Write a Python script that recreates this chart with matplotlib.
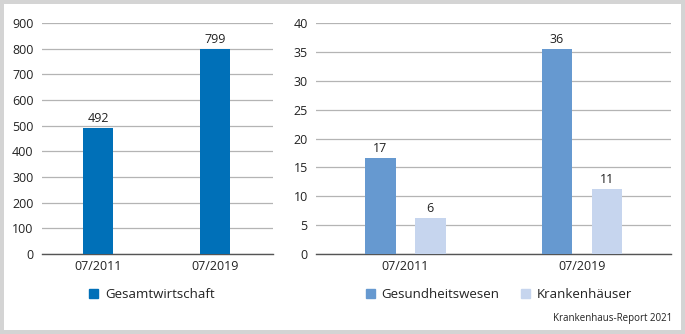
import numpy as np
import matplotlib
matplotlib.use("Agg")
from matplotlib import pyplot as plt
from matplotlib.patches import Rectangle, Patch

plt.rcParams['font.family'] = ['Open Sans', 'DejaVu Sans']

# data
periods = ['07/2011', '07/2019']
gesamt = [492, 799]
gesund = [16.6, 35.5]
kranken = [6.2, 11.3]
left_ticks = list(range(0, 1000, 100))
right_ticks = list(range(0, 45, 5))

c_gesamt = '#0070b8'
c_gesund = '#6699d0'
c_kranken = '#c6d5ee'
grid_c = '#b4b4b4'
txt_c = '#222222'

W, H = 685, 334
fig = plt.figure(figsize=(W / 100, H / 100), dpi=100)
fig.patch.set_facecolor('#d4d4d4')
fig.add_artist(Rectangle((4 / W, 4 / H), 1 - 8 / W, 1 - 8 / H,
                         transform=fig.transFigure, facecolor='white',
                         edgecolor='none', zorder=0))


def px_axes(x0, x1, y0, y1):
    # pixel box (top-left origin) -> figure axes
    return fig.add_axes([x0 / W, 1 - y1 / H, (x1 - x0) / W, (y1 - y0) / H])


def style(ax, ticks):
    ax.set_ylim(ticks[0], ticks[-1])
    ax.set_yticks(ticks)
    ax.set_xticks(range(len(periods)))
    ax.set_xticklabels(periods)
    ax.grid(axis='y', color=grid_c, linewidth=0.9)
    ax.set_axisbelow(True)
    for s in ['top', 'right', 'left']:
        ax.spines[s].set_visible(False)
    ax.spines['bottom'].set_color('#555555')
    ax.spines['bottom'].set_linewidth(1.0)
    ax.tick_params(axis='y', length=0, pad=6, labelsize=9, labelcolor=txt_c)
    ax.tick_params(axis='x', length=0, pad=4, labelsize=9, labelcolor=txt_c)


x = np.arange(len(periods))

# left panel
ax1 = px_axes(42, 273, 23, 254)
b1 = ax1.bar(x, gesamt, width=0.26, color=c_gesamt, zorder=3)
ax1.set_xlim(-0.48, 1.5)
style(ax1, left_ticks)
for r, v in zip(b1, gesamt):
    ax1.annotate(f'{v:.0f}', (r.get_x() + r.get_width() / 2, v),
                 xytext=(0, 2), textcoords='offset points',
                 ha='center', va='bottom', fontsize=9, color=txt_c)
ax1.legend(handles=[Patch(color=c_gesamt, label='Gesamtwirtschaft')],
           loc='center', bbox_to_anchor=(0.476, -0.177), frameon=False,
           fontsize=9.5, handlelength=0.7, handleheight=0.7,
           handletextpad=0.5, labelcolor=txt_c)

# right panel
ax2 = px_axes(316, 671, 23, 254)
off = 0.1415
bw = 0.173
b2 = ax2.bar(x - off, gesund, width=bw, color=c_gesund, zorder=3)
b3 = ax2.bar(x + off, kranken, width=bw, color=c_kranken, zorder=3)
ax2.set_xlim(-0.505, 1.504)
style(ax2, right_ticks)
for bars, vals in [(b2, gesund), (b3, kranken)]:
    for r, v in zip(bars, vals):
        ax2.annotate(f'{v:.0f}', (r.get_x() + r.get_width() / 2, v),
                     xytext=(0, 2), textcoords='offset points',
                     ha='center', va='bottom', fontsize=9, color=txt_c)
ax2.legend(handles=[Patch(color=c_gesund, label='Gesundheitswesen'),
                    Patch(color=c_kranken, label='Krankenhäuser')],
           loc='center', bbox_to_anchor=(0.515, -0.177), ncol=2, frameon=False,
           fontsize=9.5, handlelength=0.7, handleheight=0.7,
           handletextpad=0.5, columnspacing=1.6, labelcolor=txt_c)

fig.text(672 / W, 1 - 319 / H, 'Krankenhaus-Report 2021', ha='right',
         va='center', fontsize=7, color=txt_c)

fig.savefig('out.png', dpi=100, facecolor=fig.get_facecolor())
